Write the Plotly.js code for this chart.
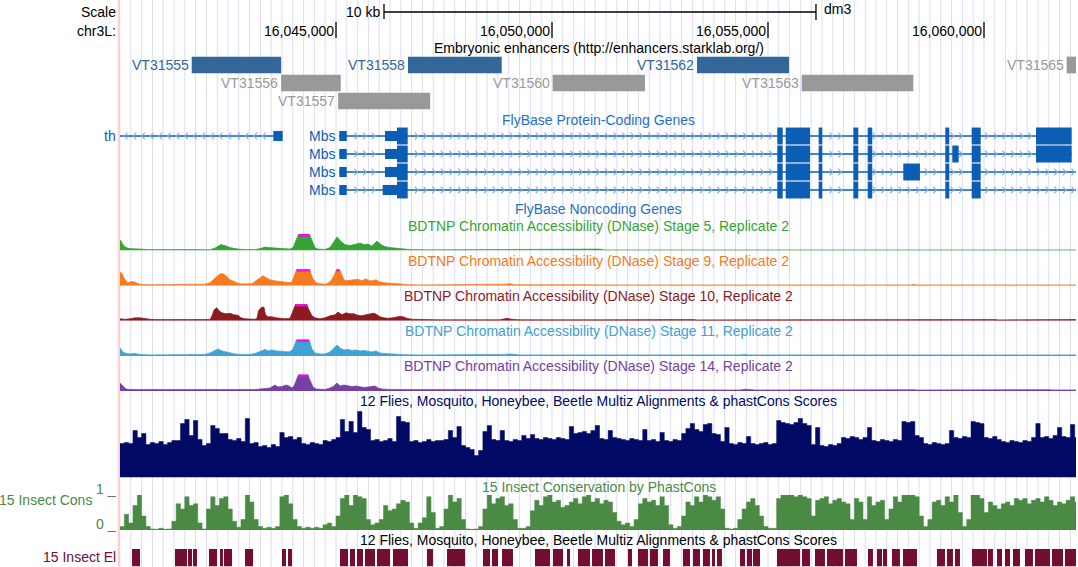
<!DOCTYPE html>
<html>
<head>
<meta charset="utf-8">
<script src="https://cdn.plot.ly/plotly-3.0.1.min.js"></script>
<style>
  html, body { margin: 0; padding: 0; background: #fff; }
  #chart { width: 1078px; height: 567px; }
</style>
</head>
<body>
<div id="chart"></div>
<script>
// ---------------------------------------------------------------------------
// Genome window (dm3, chr3L) and ruler
// ---------------------------------------------------------------------------
const WIN_START = 16040000;
const WIN_END = 16062130;
const GRID_STEP = 250;              // spacing of the light guide lines, bp
const chromLabel = 'chr3L:';
const assembly = 'dm3';
const rulerTicks = [16045000, 16050000, 16055000, 16060000];
const rulerTickLabels = ['16,045,000', '16,050,000', '16,055,000', '16,060,000'];
const scaleBarStart = 16046111;
const scaleBarLength = 10000;
const scaleBarLabel = '10 kb';

// ---------------------------------------------------------------------------
// Embryonic enhancers (Stark lab VT fragments)
// ---------------------------------------------------------------------------
const enhNames  = ['VT31555', 'VT31556', 'VT31557', 'VT31558', 'VT31560', 'VT31562', 'VT31563', 'VT31565'];
const enhStarts = [16041660, 16043730, 16045050, 16046667, 16050016, 16053356, 16055780, 16061914];
const enhEnds   = [16043730, 16045110, 16047180, 16048836, 16052153, 16055486, 16058364, 16062400];
const enhRows   = [0, 1, 2, 0, 1, 0, 1, 0];
const enhActive = [1, 0, 0, 1, 0, 1, 0, 0];

// ---------------------------------------------------------------------------
// FlyBase protein-coding transcripts
// ---------------------------------------------------------------------------
const geneNames   = ['th', 'Mbs', 'Mbs', 'Mbs', 'Mbs'];
const geneRows    = [0, 0, 1, 2, 3];
const geneStrands = ['-', '+', '+', '+', '+'];
const txStarts    = [16030000, 16045076, 16045076, 16045076, 16045076];
const txEnds      = [16043766, 16062030, 16062030, 16064000, 16064000];
const cdsStarts   = [16031000, 16046412, 16046412, 16046412, 16046412];
const cdsEnds     = [16039000, 16062030, 16062030, 16063500, 16063500];
const exonStarts = [
  [16043549],
  [16045076, 16046134, 16055215, 16055410, 16056173, 16056975, 16057308, 16059104, 16059715, 16061204],
  [16045076, 16046134, 16055215, 16055410, 16056173, 16056975, 16057308, 16059104, 16059266, 16059715, 16061204],
  [16045076, 16046134, 16055215, 16055410, 16056173, 16056975, 16057308, 16058132, 16059104, 16059715],
  [16045076, 16046081, 16055215, 16055410, 16056173, 16056975, 16057308, 16059104, 16059715]
];
const exonEnds = [
  [16043766],
  [16045248, 16046660, 16055340, 16055972, 16056257, 16057090, 16057414, 16059197, 16059924, 16062030],
  [16045248, 16046660, 16055340, 16055972, 16056257, 16057090, 16057414, 16059197, 16059414, 16059924, 16062030],
  [16045248, 16046660, 16055340, 16055972, 16056257, 16057090, 16057414, 16058518, 16059197, 16059924],
  [16045248, 16046660, 16055340, 16055972, 16056257, 16057090, 16057414, 16059197, 16059924]
];

// ---------------------------------------------------------------------------
// BDTNP DNase accessibility (breakpoints: bp offset from WIN_START, signal)
// ---------------------------------------------------------------------------
const stageNames = ['Stage 5', 'Stage 9', 'Stage 10', 'Stage 11', 'Stage 14'];

const stage5Offsets = [0,23,69,139,231,463,694,1852,2083,2199,2269,2338,2431,2546,2662,2778,3009,3125,3241,3356,3472,3588,3704,3819,3935,4005,4097,4167,4352,4444,4514,4583,4745,4861,4931,5023,5116,5208,5324,5440,5556,5648,5741,5833,5903,5949,6042,6134,6250,6366,6481,6713,7176,8912,9005,9074,11065,11111,11227,18310,18380,18472,19930,20023,21643,21759,22130];
const stage5Values  = [11,9,6,3,2,1.5,1,1,0.8,2.5,4.5,6,5,3,2,1.3,1,1,2,3.5,3,2.5,2,1.3,1.5,3,12,20,20,10,3,1.5,1.2,3,8,13.7,9,6,5,6.5,7.5,6,6.5,4.5,7,9.5,6,4,3,2.5,1.5,1,0.8,0.8,1.5,0.8,0.8,1.5,0.7,0.7,1.2,0.7,1.2,0.7,1,0.7,0.7];

const stage9Offsets = [0,46,116,185,255,324,394,463,694,1852,1968,2083,2153,2245,2315,2384,2454,2546,2639,2731,2824,2963,3056,3148,3241,3310,3380,3472,3565,3657,3773,3866,3935,3981,4051,4120,4375,4421,4468,4537,4630,4745,4815,4884,4954,5000,5023,5069,5116,5185,5231,5324,5417,5509,5602,5694,5764,5856,5926,5995,6111,6250,6435,6597,6713,6944,8796,8912,9028,9143,10880,11111,18310,18356,18472,19861,19930,20046,20139,21643,21713,22130];
const stage9Values  = [14,12,6,3,4,4,2.5,1.5,1,1,1.5,3,6,9,12,12,10,6,4,2.5,1.8,1.5,2,5,8,10,8,6,5,4.5,4,3.5,3,4,12,20,20,12,7,3,2,1.5,2.5,5,10,15,17.5,17.5,12,6,5,5.5,6,6.5,5,7,5,5,6,4,3,2.5,1.5,1.5,1,0.8,0.8,1.5,2,1,1,0.8,0.8,1.2,0.8,0.8,1.5,1.2,0.8,1.2,0.8,0.8];

const stage10Offsets = [0,116,231,347,463,579,694,926,1852,1968,2083,2130,2176,2245,2292,2361,2454,2546,2639,2731,2801,2894,3009,3125,3171,3206,3241,3287,3333,3368,3426,3519,3611,3704,3819,3935,4005,4051,4097,4306,4352,4398,4444,4514,4630,4745,4861,4977,5046,5139,5231,5324,5417,5509,5602,5694,5787,5880,5949,6018,6111,6204,6319,6481,6551,6644,6759,6944,7407,8796,8889,8958,9074,9259,11111,11759,11852,12847,13264,13356,15694,15787,20255,20347,21296,22130];
const stage10Values  = [2,1.5,2,3,3,2,1.5,1.2,1.2,1.5,1.3,5,11,13,10,8,7,7.5,6,5.5,3,2,1.8,1.5,2.5,10,12,13.5,13.7,6,4,4,3,2.5,2,2.5,10,14.7,20,20,13,9,5,3,2,3,5,6,8.7,6,8,7,7,5.5,5,6,7,7.7,6,4,3,2.5,3,4.5,4,2.5,1.5,1.3,1,1,1.5,2.5,1.5,1,1,1.2,0.9,1.2,1.2,0.9,1.2,0.9,1.2,0.9,1.3,1.3];

const stage11Offsets = [0,69,139,231,347,463,694,1852,1968,2083,2176,2269,2361,2454,2546,2662,2778,3009,3125,3241,3356,3426,3519,3611,3704,3796,3889,3958,4005,4074,4120,4352,4398,4444,4514,4630,4745,4861,4954,5023,5093,5185,5278,5370,5463,5556,5648,5741,5833,5926,6018,6111,6250,6481,6597,6944,8796,8912,9028,9143,9259,14352,14468,14537,22130];
const stage11Values  = [8,4,2.5,2,2.5,1.5,1,1,1.5,3,5,7,5,4,3,2,1.5,1.5,2.5,4.5,6.5,5,6,5,5,4.5,4,5,7,14,20,20,12,7,3,2,2,4,8,11,8,6,6.5,5.5,6,5,5.5,4.5,4,5,3,2.5,2,1.8,1.2,1,1,1.5,2,1.5,1,1,1.5,1,1];

const stage14Offsets = [0,69,139,231,463,694,1157,1227,1296,2431,2500,2569,3009,3125,3241,3356,3472,3588,3657,3750,3843,3912,3981,4028,4074,4120,4167,4329,4375,4421,4468,4537,4630,4745,4861,4954,5023,5093,5185,5278,5370,5463,5556,5648,5741,5833,5903,5972,6065,6250,6481,6944,13773,13843,13912,14352,14468,14630,14722,18380,18449,21528,21597,22130];
const stage14Values  = [8,5,2,1.5,1.5,1,1,1.5,1,1,1.3,1,1,1.5,2,2.5,3,6,4,4.5,6,5,3,5,11,15,20,20,13,8,4,2,1.5,1.5,3,5,8,5,6,5,4.5,5,4,3.5,4,4.5,5,3,2,1.5,1.5,1,1,1.5,1,1,1.8,1.5,1,1.2,1,1.3,1,1];

const SIGNAL_MAX = 16.5;   // view limit of the DNase tracks; higher values are clipped

// ---------------------------------------------------------------------------
// Multiz / phastCons tracks, 100 bp bins from WIN_START
// ---------------------------------------------------------------------------
const BIN = 100;
const multizScores = [
  34,35,34,47,40,44,33,35,34,36, 33,35,37,37,54,58,42,57,38,32,
  34,52,49,44,44,38,37,39,36,59, 34,35,31,32,30,33,31,45,40,41,
  38,40,34,33,35,34,33,37,36,38, 40,58,46,56,45,66,50,48,37,38,
  36,37,39,36,61,56,55,36,37,35, 36,38,36,37,37,38,47,40,51,32,
  30,28,22,27,46,52,38,37,47,37, 36,38,37,42,39,43,39,38,40,39,
  38,40,39,38,51,44,45,46,44,47, 52,39,38,47,40,39,38,37,39,38,
  37,48,37,38,36,45,37,36,38,37, 44,49,54,48,46,53,54,44,43,36,
  50,34,33,35,34,41,34,33,34,35, 33,34,57,55,54,53,55,59,54,52,
  33,50,32,31,33,32,34,40,39,41, 40,38,40,50,37,36,38,37,36,38,
  37,56,55,56,42,40,34,33,35,34, 33,34,47,40,39,41,40,56,55,54,
  40,39,41,38,36,35,37,36,35,37, 36,40,54,40,41,39,42,50,41,40,
  53,40
];
const MULTIZ_MAX = 67.5;

const phastCons15 = [
  0.1,0.45,0.2,0.7,1.0,0.4,0.1,0.03,0.02,0.05,
  0.02,0.03,0.25,0.75,0.6,0.95,0.7,0.75,0.2,0.03,
  0.6,0.95,0.7,0.9,0.95,0.6,0.25,0.08,0.3,1.0,
  0.8,0.3,0.1,0.05,0.08,0.05,0.1,0.95,1.0,0.75,
  0.3,0.1,0.05,0.08,0.05,0.08,0.05,0.15,0.2,0.1,
  0.4,0.9,1.0,0.7,1.0,0.95,0.9,0.3,0.15,0.2,
  0.3,0.7,0.55,0.6,0.75,0.85,0.8,0.2,0.05,0.2,
  0.35,0.95,0.5,0.05,0.1,0.6,1.0,0.8,0.9,0.3,
  0.03,0.02,0.03,0.1,0.6,1.0,0.75,0.9,0.95,0.7,
  0.75,0.3,0.05,0.05,0.1,0.55,0.85,0.7,0.95,1.0,
  0.8,0.85,0.65,0.7,0.8,0.9,0.75,0.95,1.0,0.8,
  0.9,0.75,0.85,0.8,0.5,0.25,0.15,0.2,0.1,0.3,
  0.75,0.9,0.8,0.85,0.7,0.95,0.7,0.15,0.05,0.1,
  0.4,0.8,0.7,0.95,0.8,1.0,0.95,0.85,0.95,0.6,
  0.05,0.03,0.05,0.3,0.6,0.8,0.9,0.7,0.4,0.1,
  0.05,0.05,0.9,1.0,1.0,1.0,0.95,1.0,0.95,0.9,
  0.4,0.85,0.9,0.95,0.75,0.85,0.9,0.8,0.75,0.3,
  0.9,0.8,0.3,0.95,0.7,0.8,0.85,0.3,0.6,0.95,
  0.8,1.0,1.0,1.0,0.95,0.4,0.1,0.3,0.8,0.85,
  0.7,0.95,0.8,1.0,0.5,0.1,0.3,1.0,1.0,0.9,
  0.5,0.8,0.7,0.6,0.75,0.8,0.7,0.9,0.85,0.9,
  0.75,0.85,0.9,0.8,0.95,0.85,0.7,0.8,0.75,0.85,
  0.95,0.8
];

// Conserved elements (bp offsets from WIN_START)
const elemStartOffsets = [278,1273,1574,1690,2060,2315,2407,2894,3750,3889,5093,5324,5486,5671,5949,6319,7106,7569,8403,8611,8843,9606,10023,10347,10602,10926,11227,11759,11991,12268,12569,13032,13264,13495,13704,13819,14352,14514,14653,15208,15787,16088,16366,16782,17315,17523,17662,17870,18125,18912,19143,19329,19722,20092,20301,20486,20671,20949,21180,21574,21875];
const elemEndOffsets   = [463,1551,1667,1782,2245,2384,2593,3079,3843,3981,5278,5440,5625,5903,6250,6667,7245,7986,8565,8750,9097,9954,10255,10417,10880,11180,11458,11852,12222,12454,12731,13194,13426,13657,13773,13935,14468,14630,14815,15741,15972,16319,16736,17060,17430,17639,17755,18055,18449,19097,19282,19444,20069,20208,20417,20602,20833,21134,21528,21829,22153];

// ---------------------------------------------------------------------------
// Page geometry and colours
// ---------------------------------------------------------------------------
const W = 1078, H = 567;
const DATA_LEFT = 120, DATA_RIGHT = 1076;
const LABEL_RIGHT = 117;
const TITLE_X = (DATA_LEFT + DATA_RIGHT + 1) / 2;
const px = v => v / W;
const py = v => 1 - v / H;

const ENH_BLUE = '#336699', ENH_GRAY = '#999999';
const GENE_BLUE = '#0c5db4', GENE_TITLE = '#2470c4', CHEVRON = '#7fb2e5';
const stageColors = ['#36a434', '#f57a20', '#8c1b1f', '#40a1d3', '#7441a2'];
const MULTIZ_COLOR = 'rgb(0,10,100)';
const CONS_COLOR = '#4b8a45';
const ELEM_COLOR = '#730e30';
const CLIP_COLOR = '#ff00ff';
const abs = offs => offs.map(o => WIN_START + o);

const traces = [];
const layout = {
  width: W, height: H,
  margin: {l: 0, r: 0, t: 0, b: 0},
  paper_bgcolor: '#ffffff',
  plot_bgcolor: 'rgba(0,0,0,0)',
  showlegend: false,
  barmode: 'overlay',
  hovermode: false,
  font: {family: '"Liberation Sans", Arial, Helvetica, sans-serif', size: 14, color: '#000'},
  xaxis: {domain: [px(DATA_LEFT), px(DATA_RIGHT)], range: [WIN_START, WIN_END],
          visible: false, fixedrange: true, anchor: 'y'},
  annotations: [],
  shapes: []
};

function trackAxis(n, topPx, bottomPx, range) {
  layout[n === 1 ? 'yaxis' : 'yaxis' + n] = {
    domain: [py(bottomPx), py(topPx)], range: range,
    visible: false, fixedrange: true, anchor: 'x'
  };
}
function note(text, opts) {
  const a = Object.assign({text: text, showarrow: false, xref: 'paper', yref: 'paper',
                           yanchor: 'middle', borderpad: 0}, opts);
  a.font = Object.assign({size: 14, color: '#000'}, opts.font || {});
  layout.annotations.push(a);
}
function leftLabel(text, yPx, color, rightPx) {
  note(text, {x: px(rightPx || LABEL_RIGHT), xanchor: 'right', y: py(yPx), font: {color: color}});
}
function trackTitle(text, yPx, color) {
  note(text, {x: px(TITLE_X), xanchor: 'center', y: py(yPx), font: {color: color}});
}

// Guide lines and window edge
for (let p = WIN_START + GRID_STEP; p < WIN_END; p += GRID_STEP) {
  layout.shapes.push({type: 'line', xref: 'x', yref: 'paper', x0: p, x1: p, y0: 0, y1: 1,
                      line: {color: '#dcdcf8', width: 1}, layer: 'below'});
}
layout.shapes.push({type: 'line', xref: 'paper', yref: 'paper', x0: px(119), x1: px(119), y0: 0, y1: 1,
                    line: {color: '#ffcfcf', width: 2.5}, layer: 'below'});

// ---------------------------------------------------------------------------
// Scale bar and chromosome ruler
// ---------------------------------------------------------------------------
leftLabel('Scale', 12, '#000');
leftLabel(chromLabel, 31, '#000');
const sbEnd = scaleBarStart + scaleBarLength;
layout.shapes.push(
  {type: 'line', xref: 'x', yref: 'paper', x0: scaleBarStart, x1: sbEnd, y0: py(12), y1: py(12), line: {color: '#000', width: 1.3}},
  {type: 'line', xref: 'x', yref: 'paper', x0: scaleBarStart, x1: scaleBarStart, y0: py(4), y1: py(19), line: {color: '#000', width: 1.3}},
  {type: 'line', xref: 'x', yref: 'paper', x0: sbEnd, x1: sbEnd, y0: py(4), y1: py(20), line: {color: '#000', width: 1.3}}
);
note(scaleBarLabel, {xref: 'x', x: scaleBarStart, xanchor: 'right', xshift: -3, y: py(12)});
note(assembly, {xref: 'x', x: sbEnd, xanchor: 'left', xshift: 7, y: py(9)});
rulerTicks.forEach((t, k) => {
  layout.shapes.push({type: 'line', xref: 'x', yref: 'paper', x0: t, x1: t, y0: py(22), y1: py(38),
                      line: {color: '#000', width: 1.3}});
  note(rulerTickLabels[k], {xref: 'x', x: t, xanchor: 'right', xshift: -1, y: py(31)});
});

// ---------------------------------------------------------------------------
// Enhancers
// ---------------------------------------------------------------------------
trackTitle('Embryonic enhancers (http://enhancers.starklab.org/)', 48, '#000');
trackAxis(1, 56, 110, [2.5, -0.5]);
traces.push({
  type: 'bar', orientation: 'h', xaxis: 'x', yaxis: 'y',
  base: enhStarts, x: enhEnds.map((e, k) => e - enhStarts[k]), y: enhRows, width: 0.93,
  marker: {color: enhActive.map(a => a ? ENH_BLUE : ENH_GRAY), line: {width: 0}}
});
enhNames.forEach((name, k) => {
  note(name, {xref: 'x', yref: 'y', x: enhStarts[k], xanchor: 'right', xshift: -2, y: enhRows[k],
              font: {color: enhActive[k] ? ENH_BLUE : ENH_GRAY}});
});

// ---------------------------------------------------------------------------
// Genes
// ---------------------------------------------------------------------------
trackTitle('FlyBase Protein-Coding Genes', 120, GENE_TITLE);
trackAxis(3, 127, 199, [3.5, -0.5]);
const CHEVRON_STEP = 200, CHEV_W = 75, CHEV_H = 0.19;
const lineX = [], lineY = [], chevX = [], chevY = [];
const thin = {base: [], len: [], row: []}, thick = {base: [], len: [], row: []};
geneNames.forEach((g, i) => {
  const row = geneRows[i];
  const dir = geneStrands[i] === '+' ? 1 : -1;
  lineX.push(txStarts[i], txEnds[i], null);
  lineY.push(row, row, null);
  const lo = Math.max(txStarts[i], WIN_START), hi = Math.min(txEnds[i], WIN_END);
  for (let p = WIN_START + CHEVRON_STEP / 2; p < hi; p += CHEVRON_STEP) {
    if (p < lo + 60) continue;
    if (exonStarts[i].some((s, k) => p > s - 80 && p < exonEnds[i][k] + 80)) continue;
    chevX.push(p - dir * CHEV_W, p, p - dir * CHEV_W, null);
    chevY.push(row - CHEV_H, row, row + CHEV_H, null);
  }
  exonStarts[i].forEach((s, k) => {
    const e = exonEnds[i][k];
    const cs = Math.max(s, cdsStarts[i]), ce = Math.min(e, cdsEnds[i]);
    const add = (o, a, b) => { if (b > a) { o.base.push(a); o.len.push(b - a); o.row.push(row); } };
    if (ce > cs) { add(thin, s, cs); add(thick, cs, ce); add(thin, ce, e); }
    else add(thin, s, e);
  });
  if (txStarts[i] < WIN_START) {
    leftLabel(g, 136 + row * 18, GENE_BLUE);
  } else {
    note(g, {xref: 'x', yref: 'y3', x: txStarts[i], xanchor: 'right', xshift: -3, y: row,
             font: {color: GENE_BLUE}});
  }
});
traces.push({type: 'scatter', mode: 'lines', x: lineX, y: lineY, yaxis: 'y3',
             line: {color: GENE_BLUE, width: 1.6}});
traces.push({type: 'scatter', mode: 'lines', x: chevX, y: chevY, yaxis: 'y3',
             line: {color: CHEVRON, width: 1.1}});
traces.push({type: 'bar', orientation: 'h', yaxis: 'y3', base: thin.base, x: thin.len, y: thin.row,
             width: 0.56, marker: {color: GENE_BLUE, line: {width: 0}}});
traces.push({type: 'bar', orientation: 'h', yaxis: 'y3', base: thick.base, x: thick.len, y: thick.row,
             width: 0.94, marker: {color: GENE_BLUE, line: {width: 0}}});
trackTitle('FlyBase Noncoding Genes', 209, GENE_TITLE);

// ---------------------------------------------------------------------------
// BDTNP DNase accessibility
// ---------------------------------------------------------------------------
const stageOffsets = [stage5Offsets, stage9Offsets, stage10Offsets, stage11Offsets, stage14Offsets];
const stageValues = [stage5Values, stage9Values, stage10Values, stage11Values, stage14Values];
function clippedRuns(xs, ys, top) {
  const mx = [], my = [];
  for (let k = 0; k < xs.length - 1; k++) {
    const xa = xs[k], xb = xs[k + 1], a = ys[k], b = ys[k + 1];
    if (a <= top && b <= top) continue;
    const cross = xa + (xb - xa) * (top - a) / (b - a);
    mx.push(a > top ? xa : cross, b > top ? xb : cross, null);
    my.push(top - 1.1, top - 1.1, null);
  }
  return {x: mx, y: my};
}
stageNames.forEach((st, i) => {
  const bottom = 250.6 + 35.1 * i;
  const axis = 4 + i;
  const color = stageColors[i];
  trackTitle('BDTNP Chromatin Accessibility (DNase) ' + st + ', Replicate 2', 225.5 + 35.1 * i, color);
  trackAxis(axis, bottom - SIGNAL_MAX, bottom, [0, SIGNAL_MAX]);
  const xs = abs(stageOffsets[i]);
  traces.push({type: 'scatter', mode: 'lines', x: xs, y: stageValues[i], yaxis: 'y' + axis,
               fill: 'tozeroy', fillcolor: color, line: {color: color, width: 0.7}, opacity: 0.93});
  const clip = clippedRuns(xs, stageValues[i], SIGNAL_MAX);
  traces.push({type: 'scatter', mode: 'lines', x: clip.x, y: clip.y, yaxis: 'y' + axis,
               line: {color: CLIP_COLOR, width: 2.4}});
});

// ---------------------------------------------------------------------------
// Conservation (binned scores drawn as filled steps)
// ---------------------------------------------------------------------------
const binEdges = arr => arr.map((_, k) => WIN_START + k * BIN).concat([WIN_START + arr.length * BIN]);
const stepValues = arr => arr.concat([arr[arr.length - 1]]);
const multizTitle = '12 Flies, Mosquito, Honeybee, Beetle Multiz Alignments & phastCons Scores';

trackTitle(multizTitle, 401, MULTIZ_COLOR);
trackAxis(9, 477.5 - MULTIZ_MAX, 477.5, [0, MULTIZ_MAX]);
traces.push({type: 'scatter', mode: 'lines', x: binEdges(multizScores), y: stepValues(multizScores),
             yaxis: 'y9', fill: 'tozeroy', fillcolor: MULTIZ_COLOR,
             line: {color: MULTIZ_COLOR, width: 0.5, shape: 'hv'}});

trackTitle('15 Insect Conservation by PhastCons', 487, CONS_COLOR);
trackAxis(10, 495, 530, [0, 1]);
traces.push({type: 'scatter', mode: 'lines', x: binEdges(phastCons15), y: stepValues(phastCons15),
             yaxis: 'y10', fill: 'tozeroy', fillcolor: CONS_COLOR,
             line: {color: CONS_COLOR, width: 0.5, shape: 'hv'}, opacity: 0.92});
layout.shapes.push({type: 'line', xref: 'x', yref: 'y10', x0: WIN_START, x1: WIN_END, y0: 0.01, y1: 0.01,
                    line: {color: CONS_COLOR, width: 1}});
leftLabel('15 Insect Cons', 500, CONS_COLOR, 93);
leftLabel('1 _', 489, CONS_COLOR);
leftLabel('0 _', 524, CONS_COLOR);

trackTitle(multizTitle, 540, '#000');
trackAxis(11, 549, 566.5, [-0.5, 0.5]);
const elemStarts = abs(elemStartOffsets), elemEnds = abs(elemEndOffsets);
traces.push({type: 'bar', orientation: 'h', yaxis: 'y11', base: elemStarts,
             x: elemEnds.map((e, k) => e - elemStarts[k]), y: elemStarts.map(() => 0), width: 1,
             marker: {color: ELEM_COLOR, line: {width: 0}}});
leftLabel('15 Insect El', 557, ELEM_COLOR);

traces.forEach(t => { t.hoverinfo = 'skip'; if (!t.xaxis) t.xaxis = 'x'; });
Plotly.newPlot('chart', traces, layout, {staticPlot: true, displayModeBar: false});
</script>
</body>
</html>
